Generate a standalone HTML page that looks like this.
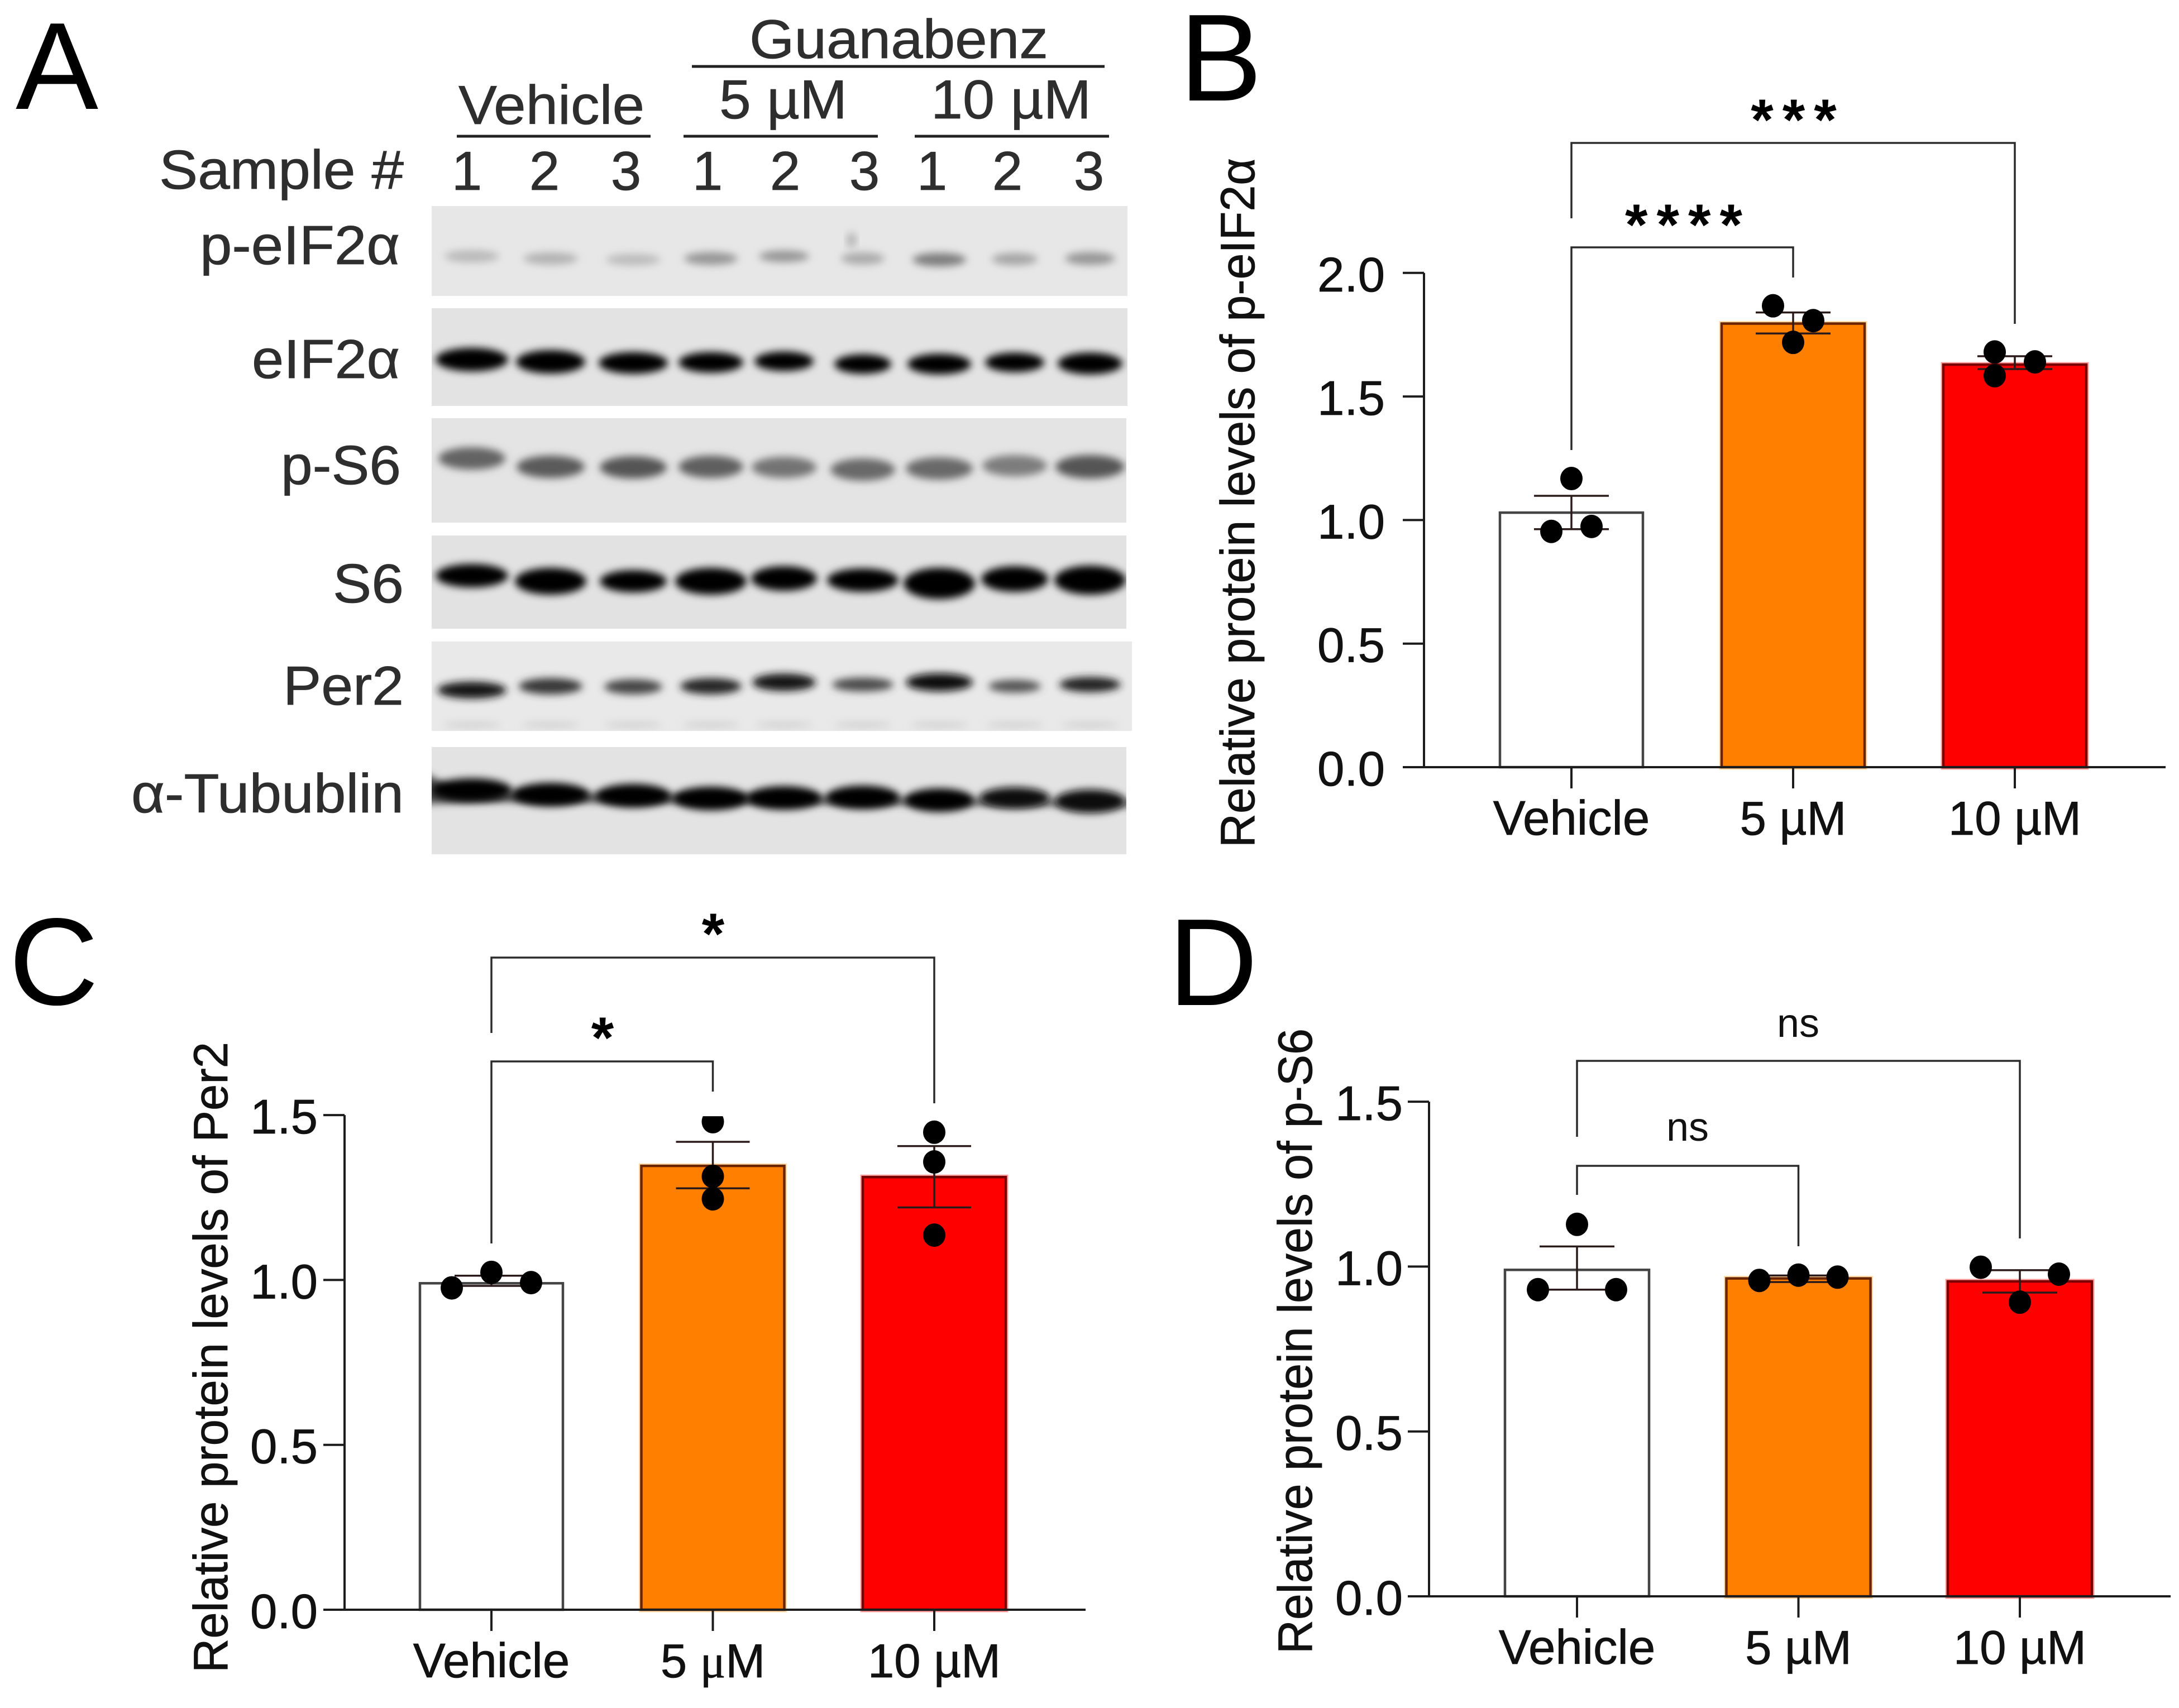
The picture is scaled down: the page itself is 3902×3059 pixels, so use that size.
<!DOCTYPE html>
<html lang="en">
<head>
<meta charset="utf-8">
<title>Guanabenz western blots and protein level bar charts</title>
<style>
html,body{margin:0;padding:0;background:#fff;}
svg{display:block;}
text{font-family:"Liberation Sans",Arial,sans-serif;}
.a{fill:#2e2e2e;stroke:#2e2e2e;stroke-width:0.8px;font-size:98px;}
.letter{fill:#000;font-size:222px;}
.rule{stroke:#222;stroke-width:5;}
</style>
</head>
<body>
<svg id="fig" xmlns="http://www.w3.org/2000/svg" width="3902" height="3059" viewBox="0 0 3902 3059">
<defs>
<filter id="bandBlur" x="-30%" y="-200%" width="160%" height="500%"><feGaussianBlur stdDeviation="7"/></filter>
<filter id="haloBlur" x="-5%" y="-5%" width="110%" height="110%"><feGaussianBlur stdDeviation="1.2"/></filter>
</defs>
<rect width="3902" height="3059" fill="#fff"/>
<text class="letter" x="28" y="195">A</text>
<text class="letter" x="2112" y="180">B</text>
<text class="letter" x="16" y="1799">C</text>
<text class="letter" x="2092" y="1800">D</text>

<g id="blot-panel">
<text class="a" x="1342" y="104" textLength="535" lengthAdjust="spacingAndGlyphs">Guanabenz</text>
<line class="rule" x1="1239" x2="1978" y1="119" y2="119"/>
<text class="a" x="821" y="222" textLength="333" lengthAdjust="spacingAndGlyphs">Vehicle</text>
<line class="rule" x1="818" x2="1165" y1="244" y2="244"/>
<text class="a" x="1288" y="212" textLength="229" lengthAdjust="spacingAndGlyphs">5 µM</text>
<line class="rule" x1="1224" x2="1572" y1="244" y2="244"/>
<text class="a" x="1667" y="212" textLength="287" lengthAdjust="spacingAndGlyphs">10 µM</text>
<line class="rule" x1="1638" x2="1986" y1="244" y2="244"/>
<text class="a" x="285" y="338" textLength="438" lengthAdjust="spacingAndGlyphs">Sample #</text>
<text class="a" x="358" y="473" textLength="358" lengthAdjust="spacingAndGlyphs">p-eIF2α</text>
<text class="a" x="451" y="677" textLength="265" lengthAdjust="spacingAndGlyphs">eIF2α</text>
<text class="a" x="503" y="867" textLength="215" lengthAdjust="spacingAndGlyphs">p-S6</text>
<text class="a" x="596" y="1079" textLength="127" lengthAdjust="spacingAndGlyphs">S6</text>
<text class="a" x="507" y="1262" textLength="216" lengthAdjust="spacingAndGlyphs">Per2</text>
<text class="a" x="235" y="1455" textLength="488" lengthAdjust="spacingAndGlyphs">α-Tubublin</text>
</g>
<g id="charts"></g>
</svg>
<script>
/* Panel A: blot lanes */
const sampleNumbers = ['1','2','3','1','2','3','1','2','3'];
const blotNames = ['p-eif2a','eif2a','p-s6','s6','per2','tubulin'];
const blotGrey = [
  [185,178,188,150,150,170,125,165,150],
  [0,0,0,0,0,0,0,0,0],
  [100,90,85,95,115,105,105,125,85],
  [0,0,0,0,0,0,0,0,0],
  [20,55,70,40,20,75,10,85,35],
  [0,0,0,0,0,0,0,10,15]
];
const blotCentreY = [
  [459,463,465,463,459,463,465,464,463],
  [644,648,650,649,647,652,652,649,651],
  [821,836,837,836,837,841,839,834,836],
  [1031,1041,1041,1041,1036,1039,1045,1037,1039],
  [1236,1229,1230,1229,1222,1226,1222,1229,1226],
  [1415,1423,1425,1430,1429,1428,1433,1429,1435]
];
const blotWidth = [
  [84,84,84,82,76,64,82,68,76],
  [116,110,110,102,92,88,100,92,102],
  [106,108,106,102,102,102,106,102,110],
  [116,114,106,114,104,114,114,106,114],
  [110,100,90,96,100,96,106,80,96],
  [130,124,120,120,120,118,110,112,112]
];
const blotThick = [
  [10,10,9,11,9,10,12,10,11],
  [30,30,27,25,23,23,25,23,27],
  [28,28,28,28,26,28,28,26,30],
  [30,36,28,36,32,30,44,34,40],
  [18,17,15,17,19,13,20,11,15],
  [30,30,30,30,30,30,30,26,30]
];

/* Panel B: p-eIF2a */
const categoriesB = ['Vehicle','5 µM','10 µM'];
const ticksB = [0,0.5,1,1.5,2];
const meansB = [1.03,1.795,1.629];
const errHighB = [1.098,1.84,1.663];
const errLowB = [0.963,1.755,1.611];
const pointsB = [[1.168,0.954,0.974],[1.867,1.807,1.719],[1.68,1.64,1.584]];
const slotsB = [[0,-1,1],[-1,1,0],[-1,1,-1]];
const starsB = ['****','***'];

/* Panel C: Per2 */
const categoriesC = ['Vehicle','5 μM','10 µM'];
const ticksC = [0,0.5,1,1.5];
const meansC = [0.99,1.346,1.312];
const errHighC = [1.013,1.419,1.406];
const errLowC = [0.982,1.278,1.22];
const pointsC = [[1.023,0.976,0.992],[1.48,1.314,1.246],[1.448,1.358,1.136]];
const slotsC = [[0,-1,1],[0,0,0],[0,0,0]];
const starsC = ['*','*'];

/* Panel D: p-S6 */
const categoriesD = ['Vehicle','5 µM','10 µM'];
const ticksD = [0,0.5,1,1.5];
const meansD = [0.99,0.964,0.955];
const errHighD = [1.061,0.973,0.989];
const errLowD = [0.93,0.953,0.921];
const pointsD = [[1.128,0.93,0.93],[0.958,0.974,0.968],[0.998,0.977,0.892]];
const slotsD = [[0,-1,1],[-1,0,1],[-1,1,0]];
const starsD = ['ns','ns'];

const NS = 'http://www.w3.org/2000/svg';
function mk(tag, attrs, parent) {
  const el = document.createElementNS(NS, tag);
  for (const k in attrs) el.setAttribute(k, attrs[k]);
  parent.appendChild(el);
  return el;
}
const fig = document.getElementById('fig');
const blotPanel = document.getElementById('blot-panel');
const chartsRoot = document.getElementById('charts');

/* Blot drawing */
(function drawBlots() {
  const laneX = i => [845,986,1134,1273,1404,1545,1682,1817,1952][i];
  const digitX = i => [836,975,1121,1267,1406,1548,1669,1804,1950][i];
  sampleNumbers.forEach((s, i) => {
    const t = mk('text', {class:'a', x:digitX(i), y:340, 'text-anchor':'middle'}, blotPanel);
    t.textContent = s;
    
    
  });
  const boxes = [
    {t:369,b:530,r:2019,bg:'#e7e7e7'},
    {t:552,b:727,r:2019,bg:'#e3e3e3'},
    {t:749,b:936,r:2017,bg:'#e4e4e4'},
    {t:959,b:1126,r:2017,bg:'#e2e2e2'},
    {t:1149,b:1309,r:2027,bg:'#e9e9e9'},
    {t:1338,b:1530,r:2017,bg:'#e3e3e3'}
  ];
  const defs = fig.querySelector('defs');
  blotNames.forEach((name, r) => {
    const box = boxes[r];
    const cp = mk('clipPath', {id:'blotClip' + r}, defs);
    mk('rect', {x:773, y:box.t, width:box.r - 773, height:box.b - box.t}, cp);
    const g = mk('g', {'clip-path':'url(#blotClip' + r + ')'}, blotPanel);
    
    
    const bg = mk('rect', {x:773, y:box.t, width:box.r - 773, height:box.b - box.t, fill:box.bg}, g);
    
    
    if (name === 'p-eif2a') {
      const smudge = mk('ellipse', {cx:1525, cy:430, rx:9, ry:14, fill:'#b5b5b5', filter:'url(#bandBlur)'}, g);
      
      
    }
    if (name === 'per2') {
      sampleNumbers.forEach((s, i) => {
        const faint = mk('ellipse', {cx:laneX(i), cy:1298, rx:52, ry:5, fill:'#cfcfcf', filter:'url(#bandBlur)'}, g);
        
        
      });
    }
    if (name === 'tubulin') {
      const smear = mk('path', {d:'M760 1385 C790 1395 800 1418 860 1418 L2030 1436 L2030 1444 L860 1436 L760 1440 Z', fill:'#4a4a4a', filter:'url(#bandBlur)'}, g);
      
      
    }
    blotGrey[r].forEach((grey, i) => {
      const band = mk('ellipse', {
        cx: laneX(i), cy: blotCentreY[r][i],
        rx: blotWidth[r][i] / 2 + 7, ry: blotThick[r][i] / 2 + 6,
        fill: 'rgb(' + grey + ',' + grey + ',' + grey + ')',
        filter: 'url(#bandBlur)'
      }, g);
      
      
    });
  });
})();

/* Chart drawing */
function drawPanel(id, cfg, data) {
  const root = mk('g', {}, chartsRoot);
  
  
  const y = v => cfg.y0 - v * cfg.unit;
  const x = i => cfg.x0 + i * cfg.step;
  const ink = '#1c1c1c';
  const labelStroke = {stroke:'#111', 'stroke-width':0.8};
  const topValue = data.ticks[data.ticks.length - 1];

  const fills = ['#ffffff','#ff8000','#ff0000'];
  const edges = ['#444444','#6a2400','#7a0000'];
  const halos = ['none','#ffd9a6','#ffa0a0'];
  data.means.forEach((m, i) => {
    const bx = x(i) - cfg.barW / 2;
    const bh = y(0) - y(m);
    if (halos[i] !== 'none') {
      const halo = mk('rect', {x:bx, y:y(m), width:cfg.barW, height:bh, fill:'none', stroke:halos[i], 'stroke-width':9}, root);
      
      
    }
    const bar = mk('rect', {x:bx, y:y(m), width:cfg.barW, height:bh, fill:fills[i], stroke:edges[i], 'stroke-width':4.5}, root);
    
    
  });

  const axis = mk('path', {d:`M${cfg.x0 - cfg.axisGap} ${y(topValue)} V${y(0)}`, fill:'none', stroke:ink, 'stroke-width':4}, root);
  
  
  const xAxis = mk('line', {x1:cfg.x0 - cfg.axisGap - 38, x2:cfg.xEnd, y1:y(0), y2:y(0), stroke:ink, 'stroke-width':4}, root);
  
  

  data.ticks.forEach(t => {
    const tick = mk('line', {x1:cfg.x0 - cfg.axisGap - 38, x2:cfg.x0 - cfg.axisGap, y1:y(t), y2:y(t), stroke:ink, 'stroke-width':4}, root);
    
    
    const lab = mk('text', Object.assign({x:cfg.tickLabelX, y:y(t) + 33 + cfg.tickNudge, 'text-anchor':'end', 'font-size':87, fill:'#111'}, labelStroke), root);
    lab.textContent = t.toFixed(1);
    
    
  });

  data.categories.forEach((c, i) => {
    const tick = mk('line', {x1:x(i), x2:x(i), y1:y(0), y2:y(0) + 38, stroke:ink, 'stroke-width':4}, root);
    
    
    const lab = mk('text', Object.assign({x:x(i), y:cfg.labelY, 'text-anchor':'middle', 'font-size':i === 0 ? 87 : 85, fill:'#111'}, labelStroke), root);
    
    
    if (c.indexOf('μ') >= 0) {
      const parts = c.split('μ');
      const a = mk('tspan', {}, lab); a.textContent = parts[0];
      const b = mk('tspan', {style:'font-family:"Liberation Serif",serif'}, lab); b.textContent = 'μ';
      const d = mk('tspan', {}, lab); d.textContent = parts[1];
    } else {
      lab.textContent = c;
    }
  });

  data.means.forEach((m, i) => {
    const eb = mk('path', {
      d: `M${x(i)} ${y(data.high[i])} V${y(data.low[i])} M${x(i) - cfg.cap} ${y(data.high[i])} H${x(i) + cfg.cap} M${x(i) - cfg.cap} ${y(data.low[i])} H${x(i) + cfg.cap}`,
      fill: 'none', stroke: '#2a1a1a', 'stroke-width': 3.5
    }, root);
    
    
  });

  const defs = fig.querySelector('defs');
  const cp = mk('clipPath', {id:'clip' + id}, defs);
  mk('rect', {x:cfg.x0 - cfg.axisGap, y:y(topValue) + 2, width:cfg.xEnd - cfg.x0 + cfg.axisGap, height:y(0) - y(topValue)}, cp);
  const ptsGroup = mk('g', {'clip-path':'url(#clip' + id + ')'}, root);
  
  
  data.points.forEach((vals, i) => {
    vals.forEach((v, j) => {
      const dot = mk('ellipse', {cx:x(i) + data.slots[i][j] * cfg.swarm, cy:y(v), rx:20, ry:21, fill:'#000'}, ptsGroup);
      
      
    });
  });

  const b = cfg.brackets;
  const lineOpts = {fill:'none', stroke:'#2b2b2b', 'stroke-width':3.5};
  const br1 = mk('path', Object.assign({d:`M${x(0)} ${b.outerLeftEnd} V${b.outerY} H${x(2)} V${b.outerRightEnd}`}, lineOpts), root);
  
  
  const br2 = mk('path', Object.assign({d:`M${x(0)} ${b.innerLeftEnd} V${b.innerY} H${x(1)} V${b.innerRightEnd}`}, lineOpts), root);
  
  

  const isNs = data.stars[0] === 'ns';
  const sigAttrs = isNs ? {'font-size':72, 'text-anchor':'middle', fill:'#111'}
                        : {'font-size':104, 'font-weight':'bold', 'text-anchor':'middle', fill:'#000', 'letter-spacing':'16px'};
  const s1 = mk('text', Object.assign({x:b.innerTextX, y:b.innerTextY}, sigAttrs), root);
  s1.textContent = data.stars[0];
  
  
  const s2 = mk('text', Object.assign({x:b.outerTextX, y:b.outerTextY}, sigAttrs), root);
  s2.textContent = data.stars[1];
  
  

  const tx = cfg.title;
  const title = mk('text', Object.assign({
    transform: `translate(${tx.x} ${tx.yBottom}) rotate(-90)`,
    'font-size': 86, fill: '#111', textLength: tx.len, lengthAdjust: 'spacingAndGlyphs'
  }, labelStroke), root);
  title.textContent = tx.text;
  
  
}

drawPanel('b', {
  x0:2814, step:397, barW:256, y0:1374, unit:442.6, axisGap:264, xEnd:3878, cap:67, swarm:36,
  tickLabelX:2480, tickNudge:0, labelY:1495,
  title:{x:2246, yBottom:1518, len:1235, text:'Relative protein levels of p-eIF2α'},
  brackets:{outerY:256, outerLeftEnd:391, outerRightEnd:580, innerY:443, innerLeftEnd:806, innerRightEnd:497,
    outerTextX:3220, outerTextY:250, innerTextX:3023, innerTextY:438}
}, {categories:categoriesB, ticks:ticksB, means:meansB, high:errHighB, low:errLowB, points:pointsB, slots:slotsB, stars:starsB});

drawPanel('c', {
  x0:880, step:396.5, barW:256, y0:2883, unit:590.6, axisGap:263, xEnd:1944, cap:66, swarm:71,
  tickLabelX:569, tickNudge:0, labelY:3004,
  title:{x:407, yBottom:2996, len:1130, text:'Relative protein levels of Per2'},
  brackets:{outerY:1715, outerLeftEnd:1850, outerRightEnd:1976, innerY:1901, innerLeftEnd:2227, innerRightEnd:1955,
    outerTextX:1285, outerTextY:1708, innerTextX:1087, innerTextY:1894}
}, {categories:categoriesC, ticks:ticksC, means:meansC, high:errHighC, low:errLowC, points:pointsC, slots:slotsC, stars:starsC});

drawPanel('d', {
  x0:2824, step:396.5, barW:258, y0:2859, unit:590.6, axisGap:265, xEnd:3887, cap:67, swarm:70,
  tickLabelX:2512, tickNudge:0, labelY:2980,
  title:{x:2349, yBottom:2962, len:1120, text:'Relative protein levels of p-S6'},
  brackets:{outerY:1900, outerLeftEnd:2036, outerRightEnd:2218, innerY:2088, innerLeftEnd:2140, innerRightEnd:2232,
    outerTextX:3220, outerTextY:1857, innerTextX:3022, innerTextY:2043}
}, {categories:categoriesD, ticks:ticksD, means:meansD, high:errHighD, low:errLowD, points:pointsD, slots:slotsD, stars:starsD});
</script>
</body>
</html>
